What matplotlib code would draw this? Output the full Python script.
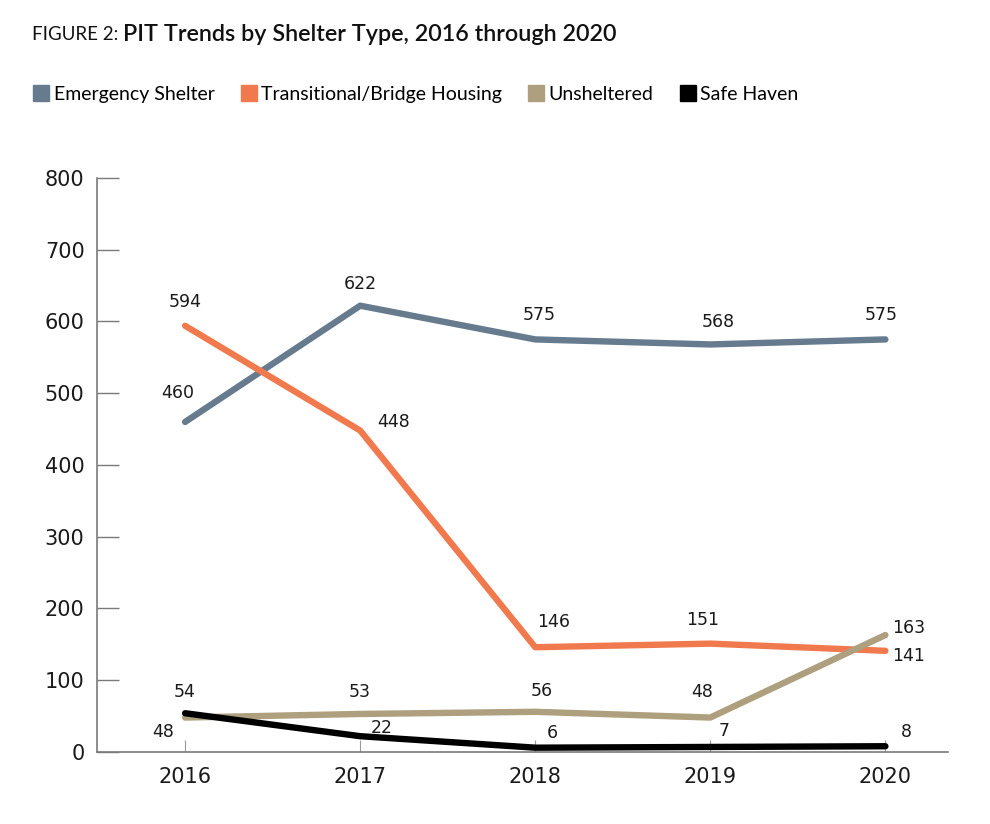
import matplotlib.pyplot as plt
from matplotlib.lines import Line2D

years = [2016, 2017, 2018, 2019, 2020]
emergency = [460, 622, 575, 568, 575]
transitional = [594, 448, 146, 151, 141]
unsheltered = [48, 53, 56, 48, 163]
safe_haven = [54, 22, 6, 7, 8]

series_names = ["Emergency Shelter", "Transitional/Bridge Housing", "Unsheltered", "Safe Haven"]
colors = ["#667B8D", "#F07A4E", "#AEA07E", "#000000"]

# label offsets in pixels (dx, dy) for each point
offsets = [
    [(-7, 29), (0, 22), (4, 24), (8, 22), (-4, 24)],
    [(0, 24), (33, 9), (18, 25), (-8, 24), (23, -5)],
    [(-22, -14), (0, 22), (7, 21), (-8, 26), (23, 7)],
    [(0, 21), (22, 8), (17, 15), (14, 16), (21, 14)],
]

num_font = "DejaVu Sans"
txt_font = "Lato"

fig = plt.figure(figsize=(9.9, 8.24), dpi=100)
ax = fig.add_axes([0.098, 0.0874, 0.86, 0.6966])

data = [emergency, transitional, unsheltered, safe_haven]
for values, color, offs in zip(data, colors, offsets):
    ax.plot(years, values, color=color, lw=4.6, solid_capstyle="round",
            solid_joinstyle="round")
    for x, v, (dx, dy) in zip(years, values, offs):
        ax.annotate(str(v), (x, v), xytext=(dx, dy), textcoords="offset pixels",
                    ha="center", va="center", fontsize=12.5, family=num_font,
                    color="#1a1a1a")

ax.set_xlim(2015.497, 2020.36)
ax.set_ylim(0, 800)
ax.set_yticks(range(0, 801, 100))
ax.set_xticks(years)
for s in ["top", "right"]:
    ax.spines[s].set_visible(False)
for s in ["left", "bottom"]:
    ax.spines[s].set_color("#7a7a7a")
    ax.spines[s].set_linewidth(1.2)
ax.tick_params(axis="y", direction="in", length=16, width=1, color="#7a7a7a",
               pad=9, labelsize=15, labelcolor="#1a1a1a")
ax.tick_params(axis="x", direction="in", length=9, width=0.8, color="#9a9a9a",
               pad=11, labelsize=15, labelcolor="#1a1a1a")
for lab in ax.get_xticklabels() + ax.get_yticklabels():
    lab.set_family(num_font)

# title
t1 = fig.text(0.032, 0.958, "FIGURE 2: ", fontsize=13.5, family=txt_font,
              color="#111111", va="center")
fig.canvas.draw()
bb = t1.get_window_extent()
x2 = bb.x1 / fig.bbox.width
fig.text(x2, 0.958, "PIT Trends by Shelter Type, 2016 through 2020", fontsize=16.8,
         family=txt_font, weight="semibold", color="#111111", va="center")

handles = [Line2D([], [], marker="s", ls="", color=c, markersize=11) for c in colors]
fig.legend(handles, series_names, loc="center left", bbox_to_anchor=(0.014, 0.885),
           ncol=4, frameon=False, handletextpad=0.15, columnspacing=1.25,
           handlelength=1.0, prop={"family": txt_font, "size": 14})

fig.savefig("out.png", dpi=100)
